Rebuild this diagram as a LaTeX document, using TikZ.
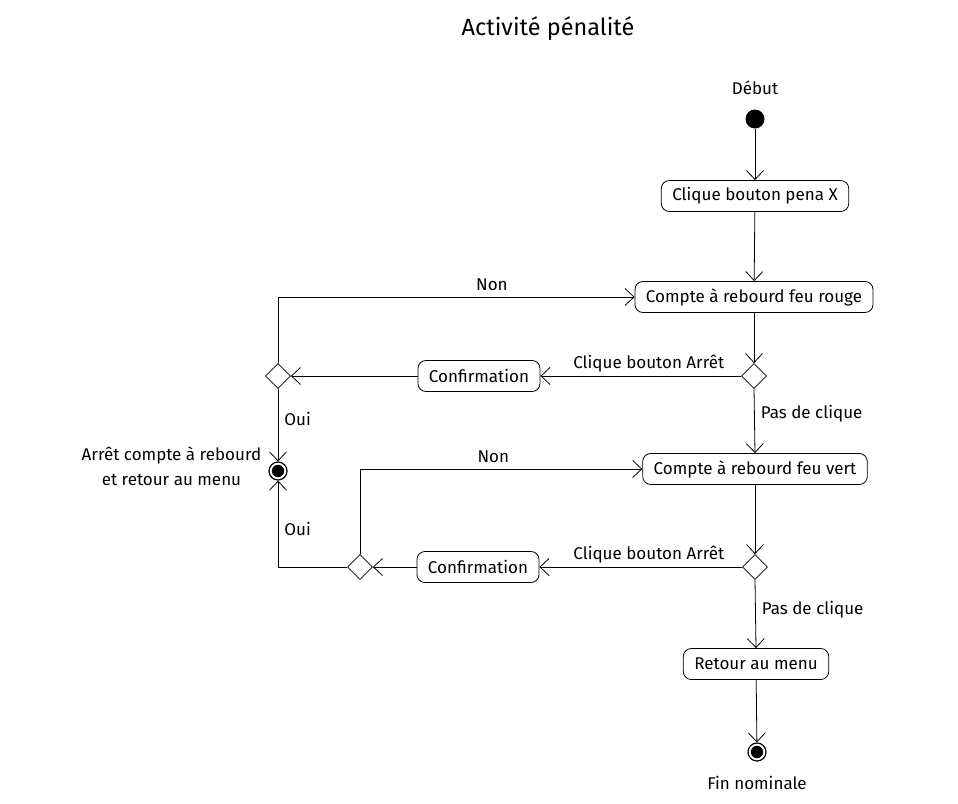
\documentclass[tikz,border=0pt]{standalone}
\usepackage{fontspec}
\setmainfont{Fira Sans}
\usetikzlibrary{positioning,shapes.geometric,arrows.meta}

\tikzset{
  action/.style={draw, rounded corners=8pt, line width=0.8pt, minimum height=31pt,
    inner xsep=11pt, font=\fontsize{17}{20}\selectfont},
  choice/.style={draw, diamond, aspect=1, minimum size=25pt, inner sep=0pt, line width=0.8pt, fill=white},
  startdot/.style={circle, fill=black, minimum size=19pt, inner sep=0pt},
  enddot/.style={circle, draw, line width=1.2pt, minimum size=18pt, inner sep=0pt,
    path picture={\fill (path picture bounding box.center) circle (6.2pt);}},
  flow/.style={line width=0.8pt, -{Straight Barb[length=9pt,width=17pt,line width=0.8pt]}},
  tag/.style={font=\fontsize{17}{25}\selectfont, inner sep=1pt}
}

\begin{document}
\begin{tikzpicture}[x=1pt, y=-1pt]
  \useasboundingbox (0,0) rectangle (958,803);

  % Penalty activity: red light then green light countdown

  \node [font=\fontsize{23.5}{28}\selectfont] (title) at (548,29) {Activité pénalité};

  \node [startdot] (start) at (755,119) {};
  \node [tag, above=13pt of start] (startlbl) {Début};

  \node [action] (clic) at (755,196) {Clique bouton pena X};
  \node [action] (rouge) at (754,297) {Compte à rebourd feu rouge};
  \node [choice] (dec1) at (754,376) {};
  \node [action] (conf1) at (479,376) {Confirmation};
  \node [choice] (decL1) at (278,376) {};
  \node [enddot] (stop) at (278,471) {};
  \node [tag, align=center, left=6pt of stop, yshift=5pt] (stoplbl) {Arrêt compte à rebourd\\et retour au menu};

  \node [action] (vert) at (755,469) {Compte à rebourd feu vert};
  \node [choice] (dec2) at (755,567) {};
  \node [action] (conf2) at (478,567) {Confirmation};
  \node [choice] (decL2) at (360,567) {};

  \node [action] (menu) at (756,664) {Retour au menu};
  \node [enddot] (fin) at (757,752) {};
  \node [tag, below=13pt of fin] (finlbl) {Fin nominale};

  \draw [flow] (start) -- (clic);
  \draw [flow] (clic) -- (rouge);
  \draw [flow] (rouge) -- (dec1);
  \draw [flow] (dec1.west) -- node [tag, above=2pt, pos=0.46] {Clique bouton Arrêt} (conf1.east);
  \draw [flow] (conf1) -- (decL1.east);
  \draw [flow] (decL1.north) |- node [tag, above=5pt, pos=0.8] {Non} (rouge.west);
  \draw [flow] (decL1.south) -- node [tag, right=5pt, pos=0.42] {Oui} (stop.north);
  \draw [flow] (dec1.south) -- node [tag, right=5pt, pos=0.39] {Pas de clique} (vert.north);

  \draw [flow] (vert) -- (dec2);
  \draw [flow] (dec2.west) -- node [tag, above=2pt, pos=0.46] {Clique bouton Arrêt} (conf2.east);
  \draw [flow] (conf2) -- (decL2.east);
  \draw [flow] (decL2.north) |- node [tag, above=5pt, pos=0.736] {Non} (vert.west);
  \draw [flow] (decL2.west) -| node [tag, right=5pt, pos=0.72] {Oui} (stop.south);
  \draw [flow] (dec2.south) -- node [tag, right=5pt, pos=0.44] {Pas de clique} (menu.north);
  \draw [flow] (menu) -- (fin);
\end{tikzpicture}
\end{document}
